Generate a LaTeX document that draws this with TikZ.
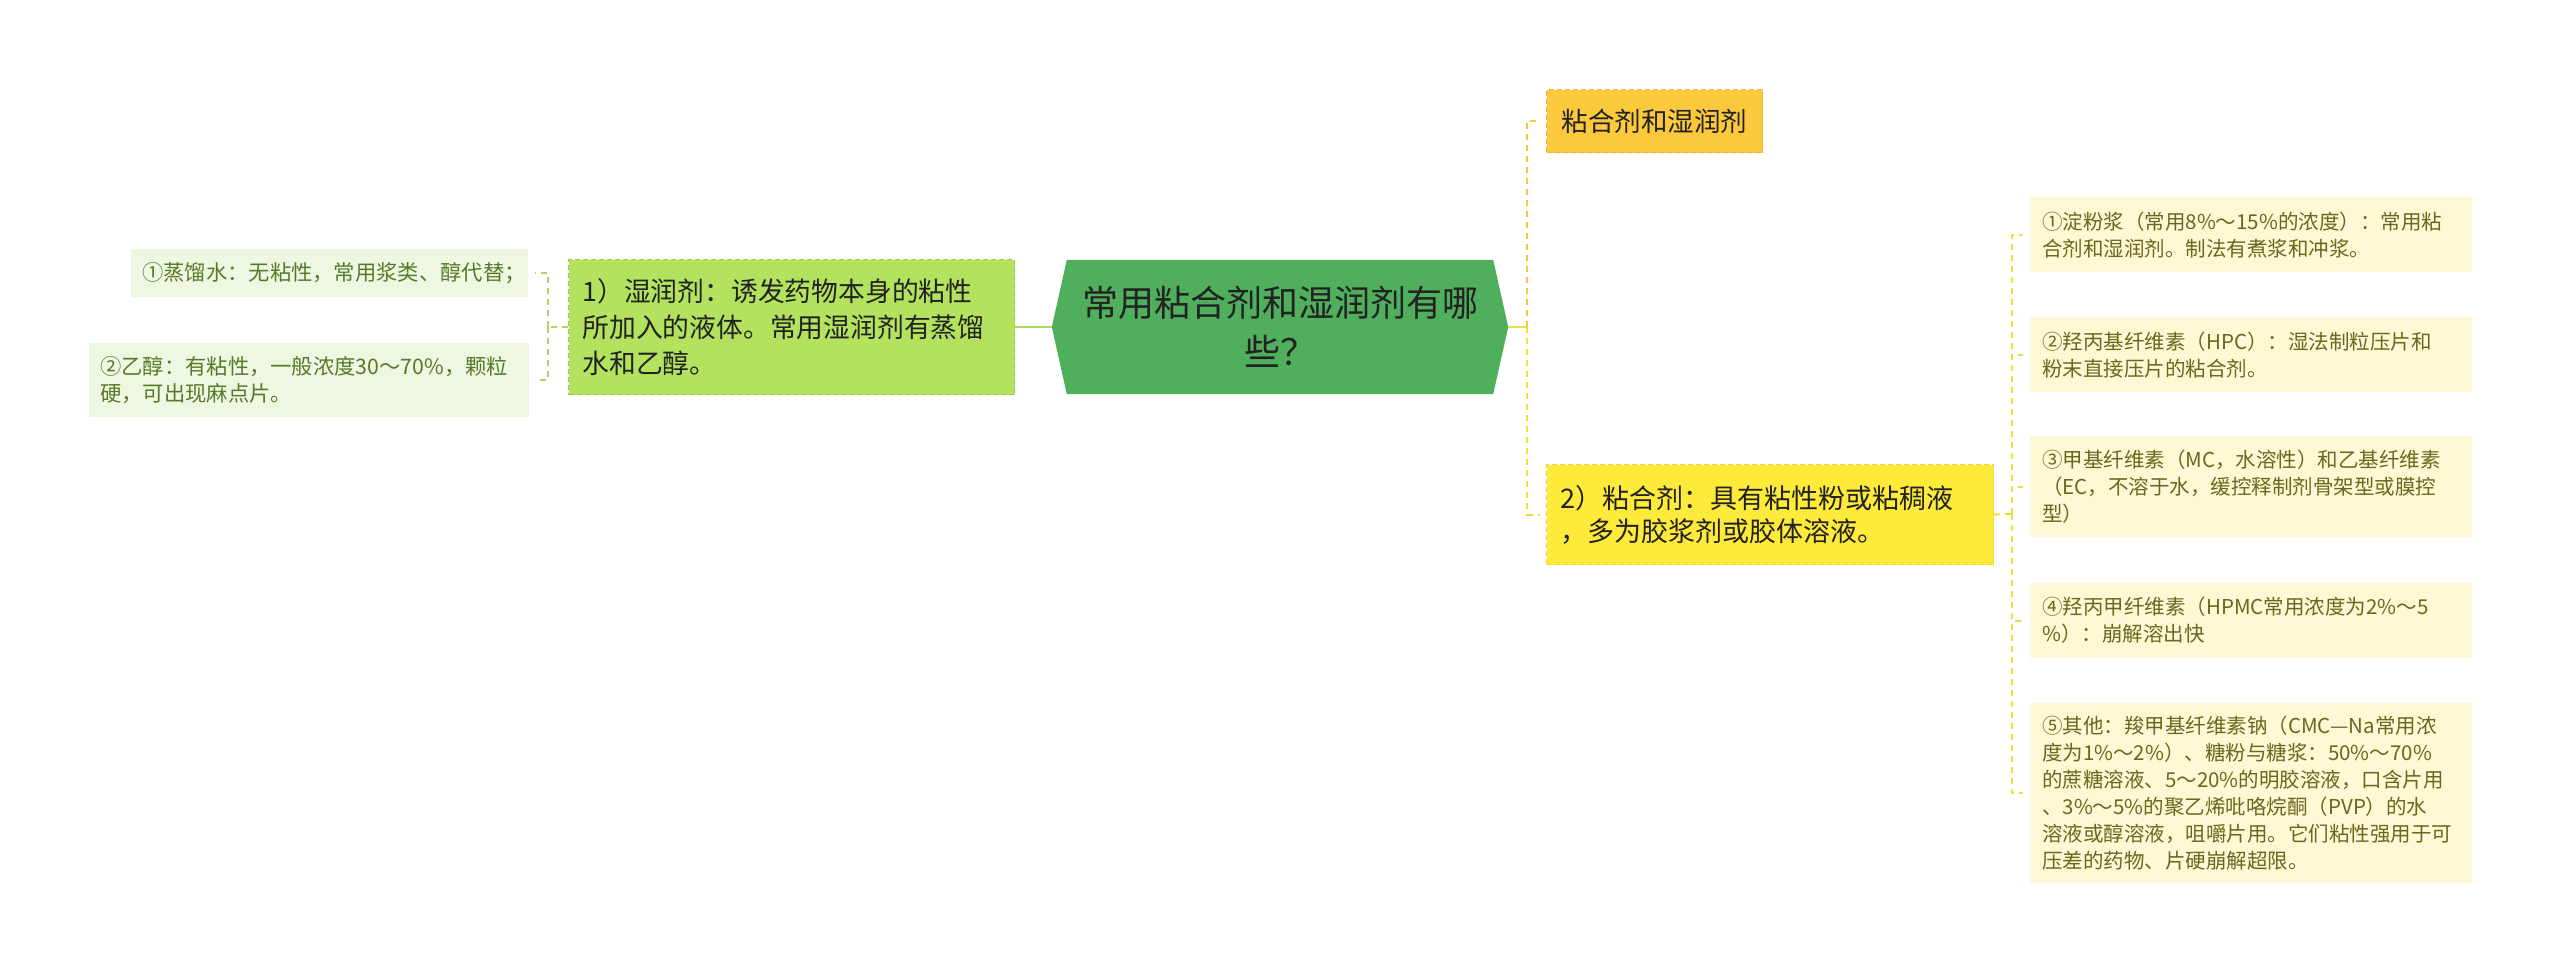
\documentclass[tikz,border=0pt]{standalone}
\usepackage{fontspec}
\newfontfamily\cjk{Noto Sans CJK SC}
\usetikzlibrary{backgrounds}
\definecolor{cgreen}{HTML}{50AF5C}
\definecolor{lgfill}{HTML}{B3E25E}
\definecolor{lgborder}{HTML}{98CC48}
\definecolor{lgline}{HTML}{A8D860}
\definecolor{lcfill}{HTML}{EEF7E2}
\definecolor{lctext}{HTML}{587A28}
\definecolor{amfill}{HTML}{FCC83C}
\definecolor{amborder}{HTML}{EEB42A}
\definecolor{amline}{HTML}{F5C444}
\definecolor{yfill}{HTML}{FDEA3A}
\definecolor{yborder}{HTML}{EED830}
\definecolor{yline}{HTML}{F0DE3C}
\definecolor{rcfill}{HTML}{FFF8D4}
\definecolor{rctext}{HTML}{6A681E}
\definecolor{dtext}{HTML}{222222}
\begin{document}
\begin{tikzpicture}[x=1pt,y=-1pt,
  box/.style={anchor=north west, inner ysep=0pt, align=left, font=\cjk},
  lchild/.style={box, font=\cjk\fontsize{21.3}{27}\selectfont, fill=lcfill, text=lctext, inner xsep=11pt},
  rchild/.style={box, font=\cjk\fontsize{20.5}{27}\selectfont, fill=rcfill, text=rctext, inner xsep=12pt, text width=418pt},
  conn/.style={line width=2pt},
  dconn/.style={line width=2pt, dash pattern=on 6pt off 5pt}]
\useasboundingbox (0,0) rectangle (2560,975);

% central topic
\node[font=\cjk\fontsize{36}{49}\selectfont, text=dtext, align=center,
      minimum width=456pt, minimum height=134pt, inner sep=0pt]
      (center) at (1280,327) {常用粘合剂和湿润剂有哪\\些？};

% left branch
\node[box, font=\cjk\fontsize{26.8}{36}\selectfont, fill=lgfill, draw=lgborder,
      dash pattern=on 5pt off 3pt, line width=1pt, text=dtext,
      inner xsep=14pt, text width=418pt, minimum height=135pt]
      (ln) at (568,259) {1）湿润剂：诱发药物本身的粘性\\所加入的液体。常用湿润剂有蒸馏\\水和乙醇。};
\node[lchild, text width=375pt, minimum height=48pt] (lc1) at (131,249)
      {①蒸馏水：无粘性，常用浆类、醇代替；};
\node[lchild, text width=418pt, minimum height=74pt] (lc2) at (89,343)
      {②乙醇：有粘性，一般浓度30～70\%，颗粒\\硬，可出现麻点片。};

% right branch
\node[box, font=\cjk\fontsize{26.5}{30}\selectfont, fill=amfill, draw=amborder,
      dash pattern=on 5pt off 3pt, line width=1pt, text=dtext, align=center,
      inner xsep=14pt, text width=188pt, minimum height=63pt]
      (rtop) at (1546,89) {粘合剂和湿润剂};
\node[box, font=\cjk\fontsize{27}{33}\selectfont, fill=yfill, draw=yborder,
      dash pattern=on 5pt off 3pt, line width=1pt, text=dtext,
      inner xsep=14pt, text width=419pt, minimum height=100pt]
      (n2) at (1546,464) {2）粘合剂：具有粘性粉或粘稠液\\，多为胶浆剂或胶体溶液。};

\node[rchild, minimum height=75pt] (rc1) at (2030,197)
      {①淀粉浆（常用8\%～15\%的浓度）：常用粘\\合剂和湿润剂。制法有煮浆和冲浆。};
\node[rchild, minimum height=75pt] (rc2) at (2030,317)
      {②羟丙基纤维素（HPC）：湿法制粒压片和\\粉末直接压片的粘合剂。};
\node[rchild, minimum height=101pt] (rc3) at (2030,436)
      {③甲基纤维素（MC，水溶性）和乙基纤维素\\（EC，不溶于水，缓控释制剂骨架型或膜控\\型）};
\node[rchild, minimum height=75pt] (rc4) at (2030,583)
      {④羟丙甲纤维素（HPMC常用浓度为2\%～5\\\%）：崩解溶出快};
\node[rchild, minimum height=180pt] (rc5) at (2030,703)
      {⑤其他：羧甲基纤维素钠（CMC—Na常用浓\\度为1\%～2\%）、糖粉与糖浆：50\%～70\%\\的蔗糖溶液、5～20\%的明胶溶液，口含片用\\、3\%～5\%的聚乙烯吡咯烷酮（PVP）的水\\溶液或醇溶液，咀嚼片用。它们粘性强用于可\\压差的药物、片硬崩解超限。};

\begin{scope}[on background layer]
\fill[white] (0,0) rectangle (2560,975);
\fill[cgreen] ([xshift=15pt]center.north west) -- ([xshift=-15pt]center.north east)
  -- (center.east) -- ([xshift=-15pt]center.south east)
  -- ([xshift=15pt]center.south west) -- (center.west) -- cycle;
\end{scope}

% connectors left
\coordinate (lb) at (548,327);
\draw[conn, lgline] (center.west) -- (ln.east);
\draw[dconn, lgline] (ln.west) -- (lb);
\draw[dconn, lgline, shorten >=7pt] (lb) |- (lc1.east);
\draw[dconn, lgline, shorten >=7pt] (lb) |- (lc2.east);

% connectors right
\coordinate (rb) at (1527,327);
\draw[conn, yline] (center.east) -- (rb);
\draw[dconn, amline, shorten >=7pt] (rb) |- (rtop.west);
\draw[dconn, yline, shorten >=6pt] (rb) |- (n2.west);

\coordinate (rb2) at (2012,514);
\draw[dconn, yline] (n2.east) -- (rb2);
\foreach \c in {rc1,rc2,rc3,rc4,rc5}
  \draw[dconn, yline, shorten >=7pt] (rb2) |- (\c.west);
\end{tikzpicture}
\end{document}
